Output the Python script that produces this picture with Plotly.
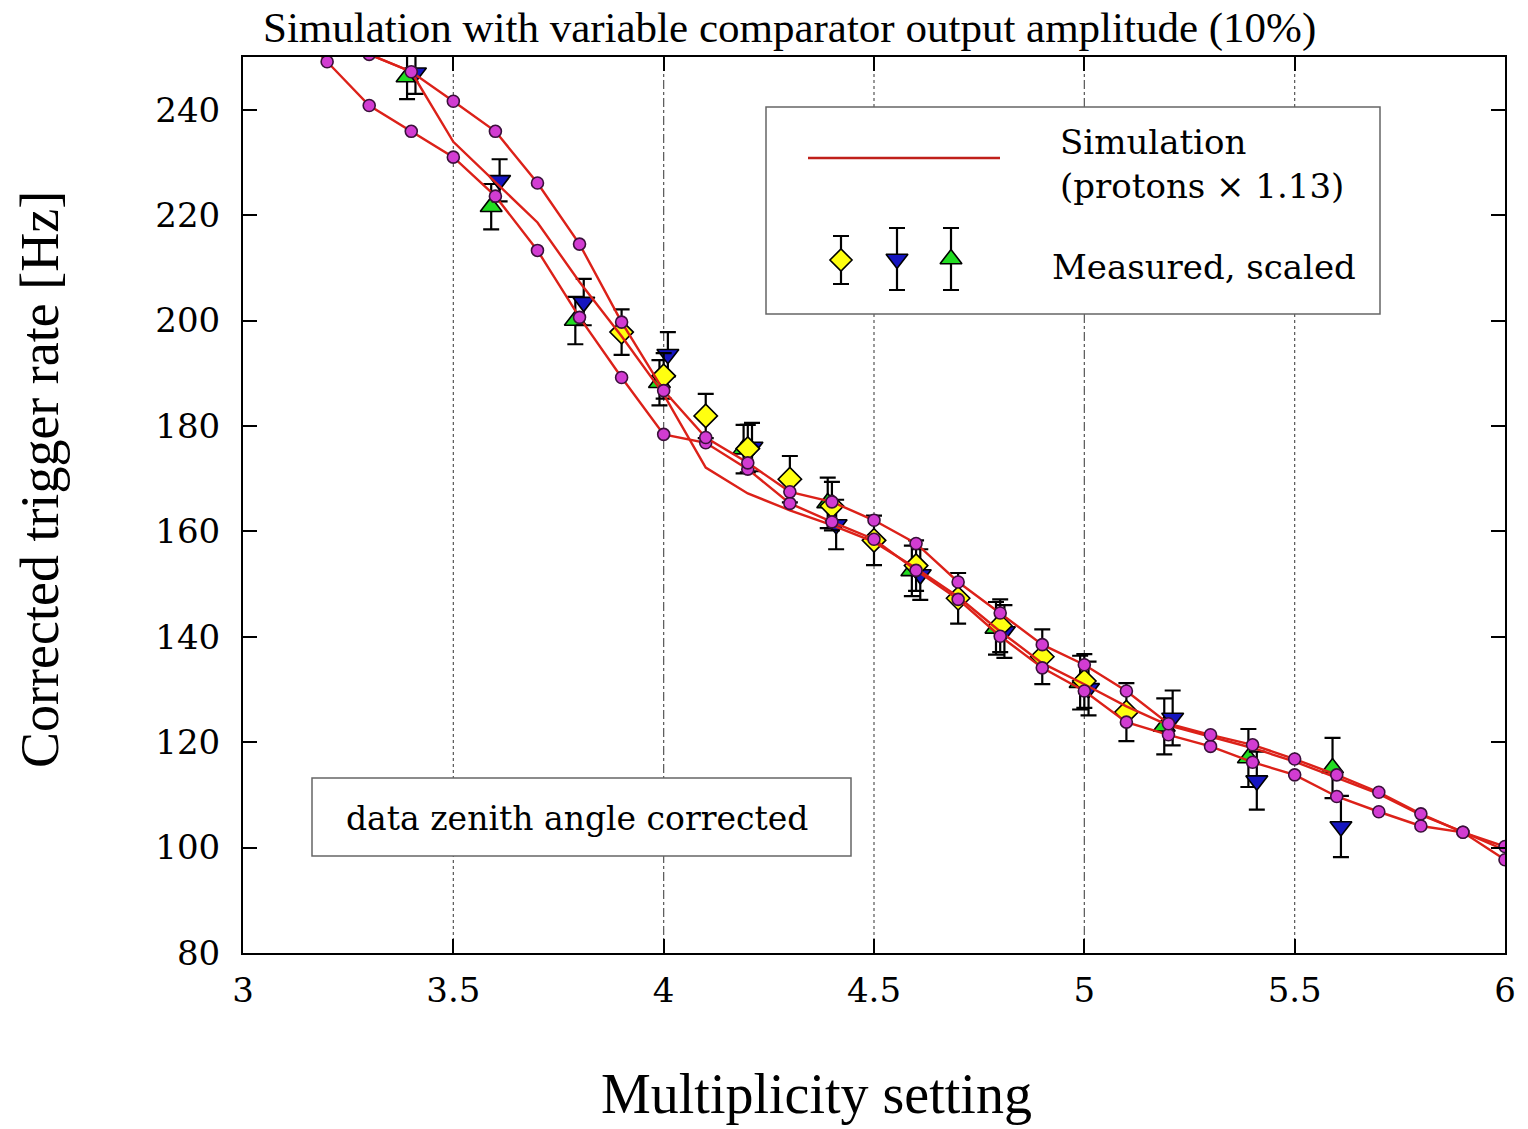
import plotly.graph_objects as go

# ---------------- data ----------------
sim_x = [3.1, 3.2, 3.3, 3.4, 3.5, 3.6, 3.7, 3.8, 3.9, 4.0, 4.1, 4.2, 4.3, 4.4, 4.5,
         4.6, 4.7, 4.8, 4.9, 5.0, 5.1, 5.2, 5.3, 5.4, 5.5, 5.6, 5.7, 5.8, 5.9, 6.0]
sim_a = [257.0, 249.1, 240.8, 235.9, 231.0, 223.6, 213.3, 200.6, 189.2, 178.4, 176.8,
         171.8, 165.3, 161.8, 158.5, 152.6, 147.1, 140.1, 134.1, 129.7, 123.8, 121.4,
         119.2, 116.2, 113.8, 109.7, 106.8, 104.1, 102.9, 97.7]
sim_b = [258.0, 254.0, 250.5, 247.2, 241.6, 235.9, 226.1, 214.5, 199.7, 186.7, 177.8,
         173.0, 167.5, 165.6, 162.1, 157.7, 150.4, 144.5, 138.5, 134.7, 129.7, 123.5,
         121.4, 119.5, 116.8, 113.8, 110.5, 106.4, 102.9, 100.2]
sim_c = [258.0, 254.0, 250.5, 247.2, 233.9, 226.3, 218.6, 207.3, 197.0, 186.0, 172.1,
         167.2, 164.0, 161.2, 158.0, 153.0, 147.6, 141.0, 135.0, 131.0, 126.8, 123.2,
         121.0, 118.9, 116.3, 113.3, 110.2, 106.2, 103.0, 99.5]

green_x = [3.39, 3.59, 3.79, 3.99, 4.19, 4.39, 4.59, 4.79, 4.99, 5.19, 5.39, 5.59]
green_y = [246.2, 221.6, 200.0, 188.2, 175.6, 165.4, 152.5, 141.6, 131.3, 123.0, 117.0, 115.1]
green_err = [4.2, 4.3, 4.5, 4.3, 4.6, 4.8, 4.8, 5.0, 5.1, 5.3, 5.5, 5.7]

blue_x = [3.41, 3.61, 3.81, 4.01, 4.21, 4.41, 4.61, 4.81, 5.01, 5.21, 5.41, 5.61]
blue_y = [247.0, 226.6, 203.5, 193.6, 176.0, 161.3, 151.8, 141.0, 130.2, 124.6, 112.7, 104.0]
blue_err = [4.0, 4.0, 4.4, 4.2, 4.6, 4.7, 4.8, 5.0, 5.1, 5.2, 5.5, 5.8]

yellow_x = [3.9, 4.0, 4.1, 4.2, 4.3, 4.4, 4.5, 4.6, 4.7, 4.8, 4.9, 5.0, 5.1]
yellow_y = [197.8, 189.5, 181.9, 175.7, 169.9, 164.8, 158.3, 153.5, 147.3, 142.1, 136.2, 131.6, 125.7]
yellow_err = [4.3, 4.3, 4.2, 4.5, 4.4, 4.6, 4.7, 4.8, 4.8, 5.0, 5.2, 5.1, 5.5]

x_ticks = [3, 3.5, 4, 4.5, 5, 5.5, 6]
x_tick_labels = ["3", "3.5", "4", "4.5", "5", "5.5", "6"]
y_ticks = [80, 100, 120, 140, 160, 180, 200, 220, 240]

title_text = "Simulation with variable comparator output amplitude (10%)"
x_title = "Multiplicity setting"
y_title = "Corrected trigger rate [Hz]"
legend_sim = ["Simulation", "(protons \u00d7 1.13)"]
legend_meas = "Measured, scaled"
note_text = "data zenith angle corrected"

# ---------------- figure ----------------
W, H = 1528, 1129
L, R, T, B = 243, 23, 57, 176
PW, PH = W - L - R, H - T - B


def px(xp):
    return (xp - L) / PW


def py(yp):
    return (H - B - yp) / PH


TICKFONT = "DejaVu Serif"
TITLEFONT = "Liberation Serif"
RED = "#dc2119"
MAG = "#d23cd2"

fig = go.Figure()

err_style = dict(type="data", visible=True, color="black", thickness=2.2, width=8)

fig.add_trace(go.Scatter(
    x=green_x, y=green_y, mode="markers",
    error_y=dict(array=green_err, **err_style),
    marker=dict(symbol="triangle-up", size=19, color="#22dd22",
                line=dict(color="black", width=1.6)),
    showlegend=False))
fig.add_trace(go.Scatter(
    x=blue_x, y=blue_y, mode="markers",
    error_y=dict(array=blue_err, **err_style),
    marker=dict(symbol="triangle-down", size=19, color="#1515c0",
                line=dict(color="black", width=1.6)),
    showlegend=False))
fig.add_trace(go.Scatter(
    x=yellow_x, y=yellow_y, mode="markers",
    error_y=dict(array=yellow_err, **err_style),
    marker=dict(symbol="diamond", size=18, color="#ffff10",
                line=dict(color="black", width=1.6)),
    showlegend=False))

for ys, with_markers in ((sim_c, False), (sim_a, True), (sim_b, True)):
    fig.add_trace(go.Scatter(
        x=sim_x, y=ys, mode="lines+markers" if with_markers else "lines",
        line=dict(color=RED, width=2.4),
        marker=dict(symbol="circle", size=12, color=MAG,
                    line=dict(color="#3a103a", width=1.6)),
        showlegend=False))

# ---- legend glyphs on an overlay (paper-like) axis ----
leg_x = [px(841), px(897), px(951)]
leg_y = [py(260), py(259), py(259)]
leg_err = [24 / PH, 31 / PH, 31 / PH]
leg_sym = ["diamond", "triangle-down", "triangle-up"]
leg_col = ["#ffff10", "#1515c0", "#22dd22"]
leg_size = [17, 19, 19]
for i in range(3):
    fig.add_trace(go.Scatter(
        x=[leg_x[i]], y=[leg_y[i]], xaxis="x2", yaxis="y2", mode="markers",
        error_y=dict(array=[leg_err[i]], **err_style),
        marker=dict(symbol=leg_sym[i], size=leg_size[i], color=leg_col[i],
                    line=dict(color="black", width=1.6)),
        showlegend=False))
fig.add_trace(go.Scatter(
    x=[px(808), px(1000)], y=[py(158), py(158)], xaxis="x2", yaxis="y2",
    mode="lines", line=dict(color="#c0201a", width=2.4), showlegend=False))

# ---- grid lines ----
shapes = []
for v in x_ticks[1:-1]:
    dash = "dashdot" if float(v).is_integer() else "dot"
    shapes.append(dict(type="line", xref="x", yref="paper", x0=v, x1=v, y0=0, y1=1,
                       line=dict(color="#555555", width=1.2, dash=dash), layer="below"))
# legend box
shapes.append(dict(type="rect", xref="paper", yref="paper",
                   x0=px(766), x1=px(1380), y0=py(314), y1=py(107),
                   line=dict(color="#666666", width=1.5), fillcolor="white", layer="below"))
# note box
shapes.append(dict(type="rect", xref="paper", yref="paper",
                   x0=px(312), x1=px(851), y0=py(856), y1=py(778),
                   line=dict(color="#666666", width=1.5), fillcolor="white", layer="below"))

annotations = [
    dict(text=title_text, xref="paper", yref="paper", x=px(789), y=py(28),
         showarrow=False, xanchor="center", yanchor="middle",
         font=dict(family=TITLEFONT, size=43, color="black")),
    dict(text=x_title, xref="paper", yref="paper", x=px(816), y=py(1094),
         showarrow=False, xanchor="center", yanchor="middle",
         font=dict(family=TITLEFONT, size=56, color="black")),
    dict(text=y_title, xref="paper", yref="paper", x=px(40), y=py(480),
         showarrow=False, xanchor="center", yanchor="middle", textangle=-90,
         font=dict(family=TITLEFONT, size=54, color="black")),
    dict(text=legend_sim[0], xref="paper", yref="paper", x=px(1058), y=py(142),
         showarrow=False, xanchor="left", yanchor="middle",
         font=dict(family=TICKFONT, size=34, color="black")),
    dict(text=legend_sim[1], xref="paper", yref="paper", x=px(1058), y=py(186),
         showarrow=False, xanchor="left", yanchor="middle",
         font=dict(family=TICKFONT, size=34, color="black")),
    dict(text=legend_meas, xref="paper", yref="paper", x=px(1050), y=py(267),
         showarrow=False, xanchor="left", yanchor="middle",
         font=dict(family=TICKFONT, size=34, color="black")),
    dict(text=note_text, xref="paper", yref="paper", x=px(577), y=py(818),
         showarrow=False, xanchor="center", yanchor="middle",
         font=dict(family=TICKFONT, size=33, color="black")),
]

axis_common = dict(showline=True, linecolor="black", linewidth=2, mirror="ticks",
                   ticks="inside", ticklen=14, tickwidth=1.5, tickcolor="black",
                   showgrid=False, zeroline=False,
                   tickfont=dict(family=TICKFONT, size=34, color="black"))

fig.update_layout(
    width=W, height=H,
    margin=dict(l=L, r=R, t=T, b=B, pad=0),
    paper_bgcolor="white", plot_bgcolor="white",
    showlegend=False,
    xaxis=dict(range=[3, 6], tickvals=x_ticks, ticktext=x_tick_labels,
               ticklabelstandoff=6, **axis_common),
    yaxis=dict(range=[80, 250], tickvals=y_ticks, ticklabelstandoff=14, **axis_common),
    xaxis2=dict(overlaying="x", range=[0, 1], visible=False, fixedrange=True),
    yaxis2=dict(overlaying="y", range=[0, 1], visible=False, fixedrange=True),
    shapes=shapes,
    annotations=annotations,
)

fig.write_html("out.html")
